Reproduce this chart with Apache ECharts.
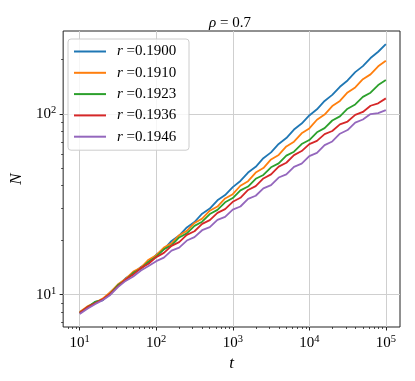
<!DOCTYPE html>
<html>
<head>
<meta charset="utf-8">
<script src="https://cdn.jsdelivr.net/npm/echarts@6/dist/echarts.min.js"></script>
<style>
html, body { margin: 0; padding: 0; background: #fff; }
#chart { width: 415px; height: 381px; }
</style>
</head>
<body>
<div id="chart"></div>
<script>
// time steps (0.1 decade apart)
const tValues = [10, 12.59, 15.85, 19.95, 25.12, 31.62, 39.81, 50.12, 63.1, 79.43,
    100, 125.9, 158.5, 199.5, 251.2, 316.2, 398.1, 501.2, 631, 794.3,
    1000, 1259, 1585, 1995, 2512, 3162, 3981, 5012, 6310, 7943,
    10000, 12589, 15849, 19953, 25119, 31623, 39811, 50119, 63096, 79433, 100000];

const rLabels = ['0.1900', '0.1910', '0.1923', '0.1936', '0.1946'];

const nR1900 = [8.0, 8.4, 9.1, 9.3, 10.3, 11.2, 12.3, 13.1, 14.2, 15.1,
    16.6, 17.8, 19.8, 21.2, 23.5, 25.2, 28.0, 29.9, 33.2, 35.5,
    39.3, 42.5, 47.3, 50.9, 56.8, 61.2, 68.1, 73.4, 81.8, 88.3,
    97.9, 105.9, 117.8, 127.2, 141.1, 152.9, 170.0, 183.6, 203.4, 220.4, 243];
const nR1910 = [8.0, 8.6, 9.0, 9.5, 10.3, 11.4, 12.2, 13.4, 14.1, 15.6,
    16.5, 18.2, 19.2, 21.3, 22.5, 24.9, 26.3, 29.1, 30.7, 34.0,
    35.9, 40.0, 42.4, 47.3, 50.1, 55.9, 59.2, 66.0, 70.1, 78.0,
    83.0, 92.7, 99.0, 110.4, 117.8, 131.2, 140.0, 155.3, 165.2, 183.1, 196.6];
const nR1923 = [7.9, 8.5, 9.1, 9.35, 10.1, 11.3, 12.0, 13.2, 13.9, 15.2,
    16.2, 17.8, 18.7, 20.7, 21.8, 24.0, 25.3, 27.9, 29.4, 32.4,
    34.2, 37.7, 39.6, 43.7, 45.9, 50.6, 53.2, 58.7, 61.7, 68.0,
    71.6, 79.0, 83.3, 91.8, 96.8, 106.7, 112.6, 124.0, 130.8, 144.1, 153.7];
const nR1936 = [7.9, 8.5, 8.95, 9.4, 10.1, 11.1, 12.1, 12.9, 14.0, 14.8,
    16.1, 17.0, 18.6, 19.5, 21.4, 22.4, 24.6, 25.8, 28.3, 29.7,
    32.6, 34.3, 37.9, 39.8, 43.9, 46.2, 51.0, 53.6, 59.1, 62.2,
    68.0, 70.8, 77.2, 80.3, 87.4, 90.6, 98.6, 102.4, 110.8, 114.2, 121.7];
const nR1946 = [7.8, 8.35, 8.85, 9.3, 9.95, 11.0, 11.9, 12.6, 13.6, 14.4,
    15.3, 16.0, 17.5, 18.2, 19.9, 20.8, 22.7, 23.6, 25.9, 26.9,
    29.5, 30.7, 33.8, 35.2, 38.7, 40.3, 44.4, 46.2, 50.9, 53.0,
    58.3, 60.8, 67.1, 70.3, 77.6, 81.3, 89.4, 93.0, 99.6, 100.9, 104.8];

const xTicks = [10, 100, 1000, 10000, 100000];
const yTicks = [10, 100];

const colors = ['#1f77b4', '#ff7f0e', '#2ca02c', '#d62728', '#9467bd'];
const lines = [nR1900, nR1910, nR1923, nR1936, nR1946];

const lg = Math.log10;
const serif = '"Liberation Serif", "DejaVu Serif", serif';

// axes work in log10 space so the grid matches the matplotlib margins
const xMin = 0.784, xMax = 5.185;
const yMin = 0.8206, yMax = 2.458;

function minorTicks(lo, hi) {
    const out = [];
    for (let e = Math.floor(lo); e <= Math.ceil(hi); e++) {
        for (let m = 2; m <= 9; m++) {
            const v = e + lg(m);
            if (v >= lo && v <= hi) out.push(v);
        }
    }
    return out;
}

const tickRich = {
    b: { fontFamily: serif, fontSize: 15, color: '#000', lineHeight: 18 },
    s: { fontFamily: serif, fontSize: 10.5, color: '#000', verticalAlign: 'top', lineHeight: 11 }
};
const powLabel = v => '{b|10}{s|' + Math.round(v) + '}';

const majorAxis = (ticks, lo, hi, extra) => Object.assign({
    type: 'value',
    min: lo,
    max: hi,
    axisLine: { show: false },
    axisTick: { show: true, customValues: ticks.map(lg), length: 3.5, lineStyle: { color: '#222', width: 1 } },
    axisLabel: { customValues: ticks.map(lg), formatter: powLabel, rich: tickRich, margin: 7 },
    splitLine: { show: true, lineStyle: { color: '#cfcfcf', width: 1 } }
}, extra);

const minorAxis = (lo, hi, pos) => ({
    type: 'value',
    min: lo,
    max: hi,
    position: pos,
    axisLine: { show: false },
    axisTick: { show: true, customValues: minorTicks(lo, hi), length: 2, lineStyle: { color: '#222', width: 0.8 } },
    axisLabel: { show: false },
    splitLine: { show: false }
});

const chart = echarts.init(document.getElementById('chart'));

const option = {
    animation: false,
    color: colors,
    title: {
        text: '{i|ρ} = 0.7',
        left: 225,
        top: 11,
        textAlign: 'center',
        textStyle: {
            fontFamily: serif, fontSize: 15, fontWeight: 'normal', color: '#000',
            rich: { i: { fontFamily: serif, fontSize: 15, fontStyle: 'italic', color: '#000' } }
        }
    },
    grid: {
        show: true,
        left: 60, right: 15, top: 31, bottom: 54,
        borderColor: '#222', borderWidth: 1,
        containLabel: false
    },
    legend: {
        orient: 'vertical',
        left: 68, top: 39,
        icon: 'rect',
        itemWidth: 32, itemHeight: 2, itemGap: 4.3,
        padding: [4, 6, 5, 6],
        backgroundColor: 'rgba(255,255,255,0.8)',
        borderColor: '#cccccc', borderWidth: 1, borderRadius: 3,
        formatter: n => '{i|r} =' + n.split('=')[1],
        textStyle: {
            fontFamily: serif, fontSize: 15, color: '#000', lineHeight: 17,
            width: 66, padding: [0, 0, 0, 6],
            rich: { i: { fontFamily: serif, fontSize: 15, fontStyle: 'italic', color: '#000', lineHeight: 17 } }
        }
    },
    xAxis: [
        majorAxis(xTicks, xMin, xMax, {
            position: 'bottom',
            name: 't', nameLocation: 'middle', nameGap: 19,
            nameTextStyle: { fontFamily: serif, fontSize: 17, fontStyle: 'italic', color: '#000' }
        }),
        minorAxis(xMin, xMax, 'bottom')
    ],
    yAxis: [
        majorAxis(yTicks, yMin, yMax, {
            position: 'left',
            name: 'N', nameLocation: 'middle', nameGap: 28,
            nameTextStyle: { fontFamily: serif, fontSize: 17, fontStyle: 'italic', color: '#000' }
        }),
        minorAxis(yMin, yMax, 'left')
    ],
    series: lines.map((arr, i) => ({
        name: 'r =' + rLabels[i],
        type: 'line',
        xAxisIndex: 0,
        yAxisIndex: 0,
        symbol: 'none',
        showSymbol: false,
        lineStyle: { width: 1.8, color: colors[i] },
        itemStyle: { color: colors[i] },
        data: tValues.map((t, j) => [lg(t), lg(arr[j])])
    }))
};

chart.setOption(option);
</script>
</body>
</html>
